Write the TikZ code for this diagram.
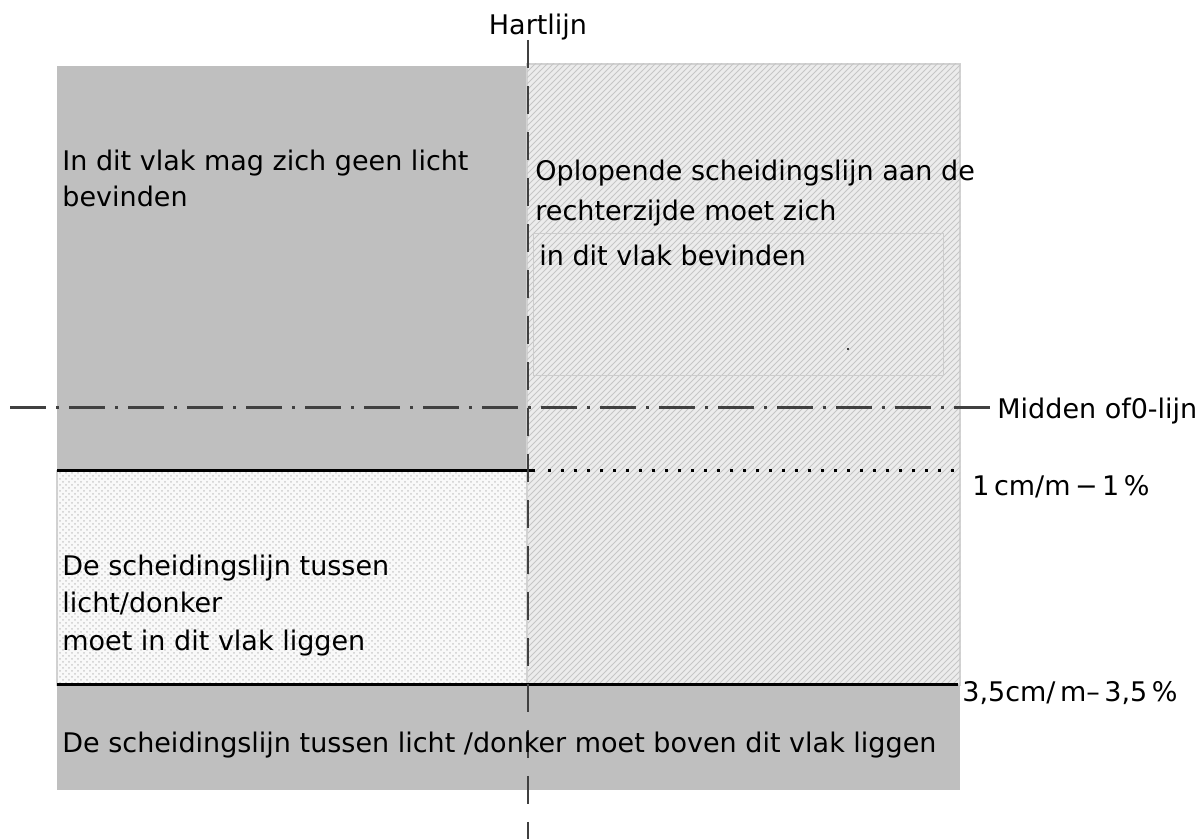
\documentclass[tikz,border=0pt]{standalone}
\usepackage{fontspec}
\setmainfont{DejaVu Sans}
\usetikzlibrary{patterns, positioning}
\tikzset{/Plan/tekst/.style={
	anchor=west, inner sep=0, font=\fontsize{13.5}{16}\selectfont
}}
\tikzset{/Plan/grens/.style={
	line width=1.5pt, black
}}

\begin{document}
\begin{tikzpicture}[x=0.5pt, y=-0.5pt]
\useasboundingbox (0,0) rectangle (1201,839);
{% vlakken
\path[fill=gray!50] (57,66) rectangle (527,471);
\path[fill=gray!15, draw=gray!35, line width=0.6pt] (527,64) rectangle (960,685);
\path[pattern=north east lines, pattern color=gray!45] (527,64) rectangle (960,685);
\path[fill=gray!5, draw=gray!35, line width=0.6pt] (57,471) rectangle (527,685);
\path[pattern=crosshatch dots, pattern color=gray!40] (57,471) rectangle (527,685);
\path[fill=gray!50] (57,685) rectangle (960,790);
\path[draw=gray!40, line width=0.4pt] (533,233) rectangle (943,375);
\node[shape=circle, fill=black, inner sep=0, minimum size=1.2pt] (punt) at (848,349) {};
}
{% lijnen
\coordinate (hart top) at (528,40);
\coordinate (hart bot) at (528,839);
\coordinate (nul west) at (10,408);
\coordinate (nul east) at (990,408);
\coordinate (een west) at (57,471);
\coordinate (een mid) at (535,471);
\coordinate (een east) at (958,471);
\coordinate (drie west) at (57,685);
\coordinate (drie east) at (958,685);
\path[/Plan/grens,draw] (een west) -- (een mid);
\path[draw, line width=1.5pt, dash pattern=on 1.5pt off 5pt] ([xshift=6.5pt]een mid) -- (een east);
\path[/Plan/grens,draw] (drie west) -- (drie east);
\path[draw, black!75, line width=1.5pt, dash pattern=on 18pt off 5pt on 1.5pt off 5pt] (nul west) -- (nul east);
\path[draw, black!75, line width=1.4pt, dash pattern=on 14pt off 9pt] (hart top) -- (hart bot);
}
{% teksten
\node[/Plan/tekst, anchor=center] (hartlijn) at (538,27) {Hartlijn};
\node[/Plan/tekst] (geenlicht) at (62,163) {In dit vlak mag zich geen licht};
\node[/Plan/tekst] (geenlicht2) at (62,196) {bevinden};
\node[/Plan/tekst] (oplopend) at (535,173) {Oplopende scheidingslijn aan de};
\node[/Plan/tekst] (oplopend2) at (535,213) {rechterzijde moet zich};
\node[/Plan/tekst] (oplopend3) at (539,255) {in dit vlak bevinden};
\node[/Plan/tekst] (midden) at (997,411) {Midden of0-lijn};
\node[/Plan/tekst] (eenprocent) at (972,487) {1\,cm/m\,−\,1\,\%};
\node[/Plan/tekst] (drieprocent) at (962,693) {3,5cm/\,m–\,3,5\,\%};
\node[/Plan/tekst] (tussen) at (62,568) {De scheidingslijn tussen};
\node[/Plan/tekst] (tussen2) at (62,603) {licht/donker};
\node[/Plan/tekst] (tussen3) at (62,643) {moet in dit vlak liggen};
\node[/Plan/tekst] (boven) at (62,745) {De scheidingslijn tussen licht /donker moet boven dit vlak liggen};
}
\end{tikzpicture}
\end{document}
